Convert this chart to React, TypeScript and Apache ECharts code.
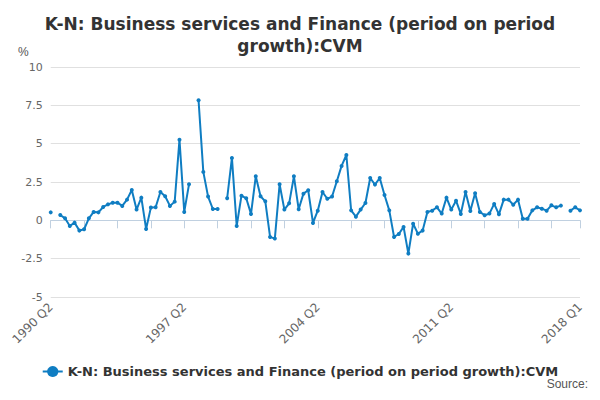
import React, { useEffect, useRef } from "react";
import * as echarts from "echarts";

// quarters 1990 Q2 .. 2018 Q1
const startYear = 1990;
const startQ = 2;
const count = 112;
const quarters: string[] = [];
for (let i = 0; i < count; i++) {
  const q = startQ - 1 + i;
  quarters.push(`${startYear + Math.floor(q / 4)} Q${(q % 4) + 1}`);
}

const growth: (number | null)[] = [
  0.52, null, 0.35, 0.13, -0.37, -0.15, -0.67, -0.58, 0.13, 0.55, 0.52, 0.87,
  1.04, 1.15, 1.15, 0.94, 1.35, 1.98, 0.7, 1.48, -0.56, 0.83, 0.85, 1.85,
  1.57, 0.94, 1.22, 5.26, 0.55, 2.35, null, 7.83, 3.16, 1.55, 0.74, 0.74,
  null, 1.44, 4.07, -0.37, 1.61, 1.44, 0.42, 2.87, 1.57, 1.24, -1.08, -1.19,
  2.35, 0.7, 1.11, 2.87, 0.72, 1.74, 1.96, -0.17, 0.63, 1.85, 1.41, 1.55,
  2.55, 3.55, 4.26, 0.65, 0.24, 0.7, 1.13, 2.76, 2.33, 2.76, 1.65, 0.65,
  -1.08, -0.89, -0.43, -2.17, -0.22, -0.87, -0.67, 0.55, 0.63, 0.85, 0.44, 1.48,
  0.7, 1.28, 0.42, 1.85, 0.61, 1.76, 0.55, 0.33, 0.44, 1.07, 0.39, 1.35,
  1.35, 1.02, 1.35, 0.11, 0.11, 0.65, 0.85, 0.76, 0.63, 0.98, 0.85, 0.96,
  null, 0.63, 0.85, 0.65,
];

const seriesName = "K-N: Business services and Finance (period on period growth):CVM";

const App: React.FC = () => {
  const chartRef = useRef<HTMLDivElement | null>(null);

  useEffect(() => {
    if (!chartRef.current) return;
    const chart = echarts.init(chartRef.current, undefined, { renderer: "svg" });
    const last = count - 1;
    chart.setOption({
      animation: false,
      textStyle: { fontFamily: "DejaVu Sans" },
      title: {
        text: "K-N: Business services and Finance (period on period\ngrowth):CVM",
        left: "center",
        top: 0,
        textStyle: { fontSize: 17, fontWeight: "bold", color: "#333", lineHeight: 22 },
      },
      grid: { left: 40, right: 12, top: 59, bottom: 95 },
      legend: {
        bottom: 9,
        left: "center",
        itemWidth: 20,
        textStyle: { fontWeight: "bold", fontSize: 13, color: "#333" },
      },
      graphic: [
        { type: "text", left: 10, top: 38, style: { text: "%", fontSize: 12, fill: "#555" } },
        { type: "text", right: 4, bottom: 2, style: { text: "Source:", fontSize: 12, fill: "#555" } },
      ],
      xAxis: {
        type: "category",
        data: quarters,
        boundaryGap: false,
        axisLine: { lineStyle: { color: "#c0d0e0" } },
        axisTick: {
          length: 8,
          interval: (i: number) => i % 7 === 0 || i === last,
          lineStyle: { color: "#c0d0e0" },
        },
        axisLabel: {
          interval: (i: number) => i % 28 === 0 || i === last,
          rotate: 45,
          color: "#666",
          fontSize: 12,
        },
      },
      yAxis: {
        type: "value",
        min: -5,
        max: 10,
        interval: 2.5,
        axisLabel: { color: "#666", fontSize: 11 },
        splitLine: { lineStyle: { color: "#e0e0e0" } },
      },
      series: [
        {
          name: seriesName,
          type: "line",
          data: growth,
          connectNulls: false,
          showAllSymbol: true,
          symbol: "circle",
          symbolSize: 4,
          itemStyle: { color: "#0f7dc2" },
          lineStyle: { width: 2, color: "#0f7dc2" },
        },
      ],
    });
    return () => chart.dispose();
  }, []);

  return <div ref={chartRef} style={{ width: "584px", height: "384px" }} />;
};

export default App;
